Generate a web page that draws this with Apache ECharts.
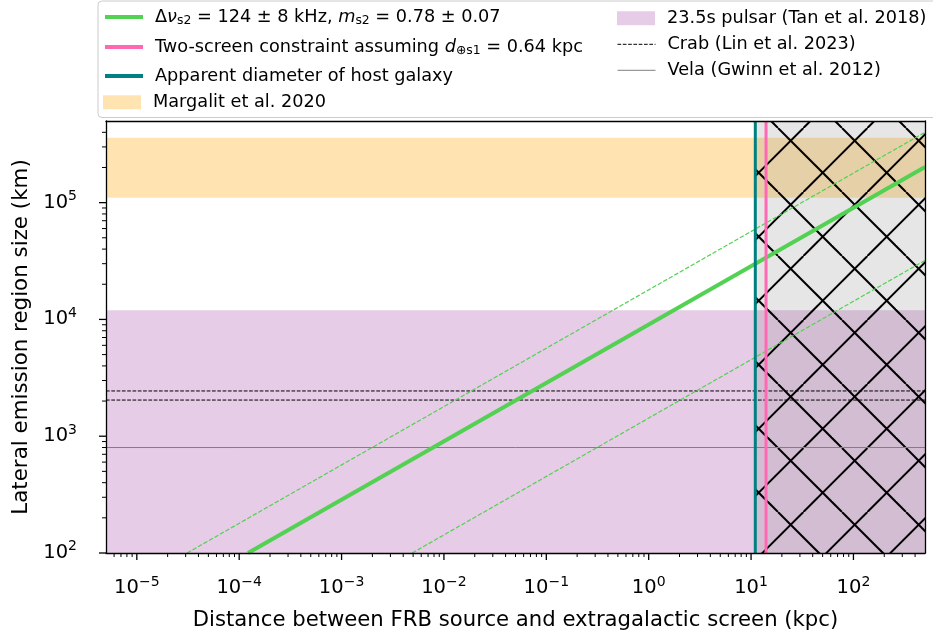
<!DOCTYPE html>
<html>
<head>
<meta charset="utf-8">
<script src="https://cdn.jsdelivr.net/npm/echarts@6/dist/echarts.min.js"></script>
<style>
html,body{margin:0;padding:0;background:#fff;}
#chart{width:933px;height:638px;}
</style>
</head>
<body>
<div id="chart"></div>
<script>
// ---- axis ranges / ticks ----
const xRange = [5e-6, 500];
const yRange = [100, 5e5];
const xMajorTicks = [1e-5, 1e-4, 1e-3, 1e-2, 1e-1, 1e0, 1e1, 1e2];
const yMajorTicks = [1e2, 1e3, 1e4, 1e5];

// ---- series values ----
const greenMain  = [[1.22e-4, 100], [500, 2.02e5]];
const greenUpper = [[3.1e-5, 100], [500, 4.0e5]];
const greenLower = [[4.9e-3, 100], [500, 3.2e4]];
const margalitBand = [1.1e5, 3.6e5];
const pulsarBand = [100, 1.2e4];
const crabLevels = [2040, 2440];
const velaLevel = 800;
const hostGalaxyDist = 11.0;
const twoScreenDist = 14.0;

// ---- legend names ----
const N_GREEN = 'green';
const N_PINK = 'pink';
const N_TEAL = 'teal';
const N_MARG = 'Margalit et al. 2020';
const N_PULS = '23.5s pulsar (Tan et al. 2018)';
const N_CRAB = 'Crab (Lin et al. 2023)';
const N_VELA = 'Vela (Gwinn et al. 2012)';

const FONT = 'DejaVu Sans';
const C_GREEN = '#52d152';
const C_PINK = '#ff69b4';
const C_TEAL = '#008080';
const C_ORANGE = 'rgba(255,165,0,0.3)';
const C_PURPLE = 'rgba(128,0,128,0.2)';
const LFS = 17.7;

function minorList(range) {
  const out = [];
  for (let d = -7; d <= 6; d++) {
    for (let k = 2; k <= 9; k++) {
      const v = k * Math.pow(10, d);
      if (v > range[0] && v < range[1]) out.push(v);
    }
  }
  return out;
}

function makeHatch() {
  const s = 64, c = document.createElement('canvas');
  c.width = s; c.height = s;
  const g = c.getContext('2d');
  g.fillStyle = 'rgba(128,128,128,0.2)';
  g.fillRect(0, 0, s, s);
  g.strokeStyle = '#000';
  g.lineWidth = 2;
  const a = 10, b = 35.4;
  for (let k = -2; k <= 2; k++) {
    g.beginPath(); g.moveTo(a + k * s, 0); g.lineTo(a + k * s + s, s); g.stroke();
    g.beginPath(); g.moveTo(b + k * s, 0); g.lineTo(b + k * s - s, s); g.stroke();
  }
  return c;
}
const hatchCanvas = makeHatch();

function expLabel(v) {
  const e = Math.log10(v);
  const r = Math.round(e);
  if (Math.abs(e - r) > 1e-6) return '';
  const s = r < 0 ? '\u2212' + (-r) : String(r);
  return '{b|10}{s|' + s + '}';
}

const tickRich = {
  b: { fontFamily: FONT, fontSize: 19.5, color: '#000' },
  s: { fontFamily: FONT, fontSize: 14, color: '#000', padding: [0, 0, 12.6, 0] }
};

const legRich = {
  r: { fontFamily: FONT, fontSize: LFS, color: '#000' },
  i: { fontFamily: FONT, fontSize: LFS, fontStyle: 'italic', color: '#000' },
  sub: { fontFamily: FONT, fontSize: 12.4, color: '#000', padding: [8, 0, 0, 0] }
};

const legendTexts = {};
legendTexts[N_GREEN] = '{r|\u0394}{i|\u03bd}{sub|s2}{r| = 124 \u00b1 8 kHz, }{i|m}{sub|s2}{r| = 0.78 \u00b1 0.07}';
legendTexts[N_PINK] = '{r|Two-screen constraint assuming }{i|d}{sub|\u2295s1}{r| = 0.64 kpc}';
legendTexts[N_TEAL] = '{r|Apparent diameter of host galaxy}';
legendTexts[N_MARG] = '{r|Margalit et al. 2020}';
legendTexts[N_PULS] = '{r|23.5s pulsar (Tan et al. 2018)}';
legendTexts[N_CRAB] = '{r|Crab (Lin et al. 2023)}';
legendTexts[N_VELA] = '{r|Vela (Gwinn et al. 2012)}';

function mkLegend(item, left, top) {
  return {
    show: true, left: left, top: top, orient: 'vertical', padding: 0,
    itemWidth: 38, itemHeight: 14, itemGap: 0, selectedMode: false,
    data: [item],
    formatter: function (n) { return legendTexts[n]; },
    textStyle: { fontFamily: FONT, fontSize: LFS, color: '#000', rich: legRich, padding: [0, 0, 0, 7] }
  };
}
function lineItem(name, color, width, type) {
  return { name: name, itemStyle: { opacity: 0, color: 'rgba(0,0,0,0)', borderWidth: 0 },
    lineStyle: { color: color, width: width, type: type, opacity: 1 } };
}

function hBand(name, band, color, z) {
  return {
    name: name, type: 'custom', z: z, silent: true,
    data: [band],
    encode: { x: 0, y: 1 },
    renderItem: function (params, api) {
      const cs = params.coordSys;
      const y1 = api.coord([xRange[0], api.value(1)])[1];
      const y0 = api.coord([xRange[0], api.value(0)])[1];
      const t = Math.max(cs.y, y1), b = Math.min(cs.y + cs.height, y0);
      return { type: 'rect', shape: { x: cs.x, y: t, width: cs.width, height: b - t }, style: { fill: color } };
    }
  };
}

function lineSeries(name, data, color, width, type, z) {
  return {
    name: name, type: 'line', data: data, symbol: 'none', z: z, silent: true,
    lineStyle: { color: color, width: width, type: type },
    itemStyle: { color: color },
    animation: false
  };
}

const xMinor = minorList(xRange);
const yMinor = minorList(yRange);

const chart = echarts.init(document.getElementById('chart'), null, { renderer: 'canvas' });

const option = {
  animation: false,
  backgroundColor: '#fff',
  grid: { left: 106, right: 8, top: 121, bottom: 85, containLabel: false },
  xAxis: [
    {
      type: 'log', logBase: 10, min: xRange[0], max: xRange[1], position: 'bottom',
      axisLine: { show: true, onZero: false, lineStyle: { color: '#000', width: 1.3 } },
      axisTick: { show: false }, splitLine: { show: false }, minorTick: { show: false },
      axisLabel: { formatter: expLabel, margin: 22, rich: tickRich, showMinLabel: true, showMaxLabel: true, hideOverlap: false },
      name: 'Distance between FRB source and extragalactic screen (kpc)',
      nameLocation: 'middle', nameGap: 57,
      nameTextStyle: { fontFamily: FONT, fontSize: 21.2, color: '#000' },
      z: 10
    },
    {
      type: 'log', logBase: 10, min: xRange[0], max: xRange[1], position: 'top',
      axisLine: { show: true, onZero: false, lineStyle: { color: '#000', width: 1.3 } },
      axisTick: { show: false }, splitLine: { show: false }, axisLabel: { show: false }, z: 10
    }
  ],
  yAxis: [
    {
      type: 'log', logBase: 10, min: yRange[0], max: yRange[1], position: 'left',
      axisLine: { show: true, onZero: false, lineStyle: { color: '#000', width: 1.3 } },
      axisTick: { show: false }, splitLine: { show: false }, minorTick: { show: false },
      axisLabel: { formatter: expLabel, margin: 29, rich: tickRich, showMinLabel: true, showMaxLabel: true, hideOverlap: false },
      name: 'Lateral emission region size (km)',
      nameLocation: 'middle', nameGap: 72,
      nameTextStyle: { fontFamily: FONT, fontSize: 21.4, color: '#000' },
      z: 10
    },
    {
      type: 'log', logBase: 10, min: yRange[0], max: yRange[1], position: 'right',
      axisLine: { show: true, onZero: false, lineStyle: { color: '#000', width: 1.3 } },
      axisTick: { show: false }, splitLine: { show: false }, axisLabel: { show: false }, z: 10
    }
  ],
  graphic: [
    {
      type: 'rect', left: 97.5, top: 0.5, z: 0,
      shape: { width: 900, height: 116.5, r: 4 },
      style: { fill: 'rgba(255,255,255,0.8)', stroke: '#cccccc', lineWidth: 1 }
    }
  ],
  legend: [
    mkLegend(lineItem(N_GREEN, C_GREEN, 4, 'solid'), 103, 8),
    mkLegend(lineItem(N_PINK, C_PINK, 4, 'solid'), 103, 38),
    mkLegend(lineItem(N_TEAL, C_TEAL, 4, 'solid'), 103, 67),
    mkLegend({ name: N_MARG, icon: 'rect', itemStyle: { color: C_ORANGE } }, 103, 93.3),
    mkLegend({ name: N_PULS, icon: 'rect', itemStyle: { color: C_PURPLE } }, 617, 9.2),
    mkLegend(lineItem(N_CRAB, '#000', 1, [3.7, 1.6]), 617, 35.3),
    mkLegend(lineItem(N_VELA, '#808080', 1, 'solid'), 617, 61.3)
  ],
  series: [
    hBand(N_MARG, margalitBand, C_ORANGE, 1),
    hBand(N_PULS, pulsarBand, C_PURPLE, 1),
    {
      name: 'hatch', type: 'custom', z: 2, silent: true,
      data: [[hostGalaxyDist, xRange[1]]],
      encode: { x: 0, y: 1 },
      renderItem: function (params, api) {
        const cs = params.coordSys;
        const x0 = api.coord([api.value(0), yRange[0]])[0];
        const x1 = api.coord([api.value(1), yRange[0]])[0];
        return {
          type: 'rect',
          shape: { x: x0, y: cs.y, width: Math.min(x1, cs.x + cs.width) - x0, height: cs.height },
          style: { fill: { image: hatchCanvas, repeat: 'repeat' } }
        };
      }
    },
    lineSeries(N_CRAB, [[xRange[0], crabLevels[0]], [xRange[1], crabLevels[0]]], '#000', 1, [3.7, 1.6], 3),
    lineSeries('crab2', [[xRange[0], crabLevels[1]], [xRange[1], crabLevels[1]]], '#000', 1, [3.7, 1.6], 3),
    lineSeries(N_VELA, [[xRange[0], velaLevel], [xRange[1], velaLevel]], '#808080', 1, 'solid', 3),
    lineSeries('upper', greenUpper, C_GREEN, 1.2, [4.4, 1.9], 4),
    lineSeries('lower', greenLower, C_GREEN, 1.2, [4.4, 1.9], 4),
    lineSeries(N_GREEN, greenMain, C_GREEN, 4, 'solid', 5),
    lineSeries(N_TEAL, [[hostGalaxyDist, yRange[0]], [hostGalaxyDist, yRange[1]]], C_TEAL, 3, 'solid', 6),
    lineSeries(N_PINK, [[twoScreenDist, yRange[0]], [twoScreenDist, yRange[1]]], C_PINK, 3, 'solid', 7),
    {
      name: 'xticks', type: 'custom', z: 11, silent: true,
      data: xMajorTicks.map(v => [v, 7]).concat(xMinor.map(v => [v, 4])),
      encode: { x: 0 },
      renderItem: function (params, api) {
        const cs = params.coordSys;
        const px = api.coord([api.value(0), yRange[0]])[0];
        const len = api.value(1);
        const yb = cs.y + cs.height;
        return { type: 'line', shape: { x1: px, y1: yb, x2: px, y2: yb + len },
          style: { stroke: '#000', lineWidth: len > 5 ? 1.3 : 1 } };
      }
    },
    {
      name: 'yticks', type: 'custom', z: 11, silent: true,
      data: yMajorTicks.map(v => [xRange[0], v, 7]).concat(yMinor.map(v => [xRange[0], v, 4])),
      encode: { x: 0, y: 1 },
      renderItem: function (params, api) {
        const cs = params.coordSys;
        const py = api.coord([xRange[0], api.value(1)])[1];
        const len = api.value(2);
        return { type: 'line', shape: { x1: cs.x, y1: py, x2: cs.x - len, y2: py },
          style: { stroke: '#000', lineWidth: len > 5 ? 1.3 : 1 } };
      }
    }
  ]
};
chart.setOption(option);
</script>
</body>
</html>
